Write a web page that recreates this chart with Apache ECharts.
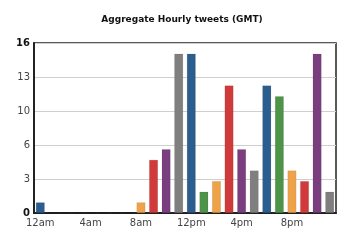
<!DOCTYPE html>
<html>
<head>
<meta charset="utf-8">
<script src="https://cdn.jsdelivr.net/npm/echarts@6/dist/echarts.min.js"></script>
<style>
  html, body { margin: 0; padding: 0; background: #fff; }
  #chart { width: 364px; height: 244px; }
</style>
</head>
<body>
<div id="chart"></div>
<script>
// hourly buckets, GMT
const hours = ['12am', '1am', '2am', '3am', '4am', '5am', '6am', '7am', '8am', '9am', '10am', '11am',
               '12pm', '1pm', '2pm', '3pm', '4pm', '5pm', '6pm', '7pm', '8pm', '9pm', '10pm', '11pm'];
const tweets = [1, 0, 0, 0, 0, 0, 0, 0, 1, 5, 6, 15, 15, 2, 3, 12, 6, 4, 12, 11, 4, 3, 15, 2];
const yTicks = [0, 3, 6, 10, 13, 16];

// colours cycle every 6 bars
const palette = ['#2b5e8e', '#4d9448', '#eea249', '#d03a3b', '#7a3e80', '#7f7f7f'];

const chart = echarts.init(document.getElementById('chart'));

chart.setOption({
    animation: false,
    title: {
        text: 'Aggregate Hourly tweets (GMT)',
        left: 'center',
        top: 10,
        textStyle: { fontFamily: 'DejaVu Sans', fontSize: 9, fontWeight: 'bold', color: '#111' }
    },
    grid: {
        left: 34, right: 28, top: 43, bottom: 31,
        show: true, borderColor: '#222', borderWidth: 1.5
    },
    xAxis: {
        type: 'category',
        data: hours,
        axisLine: { lineStyle: { color: '#222', width: 2 } },
        axisTick: { show: false },
        axisLabel: {
            interval: 3,
            margin: 5,
            fontFamily: 'DejaVu Sans',
            fontSize: 10,
            color: '#444'
        }
    },
    yAxis: {
        type: 'value',
        min: 0,
        max: 16,
        interval: 3.2,
        axisLine: { show: true, lineStyle: { color: '#222', width: 2 } },
        axisTick: { show: false },
        splitLine: { lineStyle: { color: '#cfcfcf', width: 1 } },
        axisLabel: {
            margin: 4,
            fontFamily: 'DejaVu Sans',
            fontSize: 10,
            color: '#444',
            formatter: v => {
                const r = Math.round(v);
                const i = yTicks.indexOf(r);
                return (i === 0 || i === yTicks.length - 1) ? '{b|' + r + '}' : String(yTicks[i]);
            },
            rich: { b: { fontWeight: 'bold', color: '#111', fontSize: 10, fontFamily: 'DejaVu Sans' } }
        }
    },
    series: [{
        type: 'bar',
        data: tweets,
        barCategoryGap: '30%',
        itemStyle: {
            color: p => palette[p.dataIndex % palette.length],
            borderColor: 'rgba(0,0,0,0.15)',
            borderWidth: 0.5
        }
    }]
});
</script>
</body>
</html>
